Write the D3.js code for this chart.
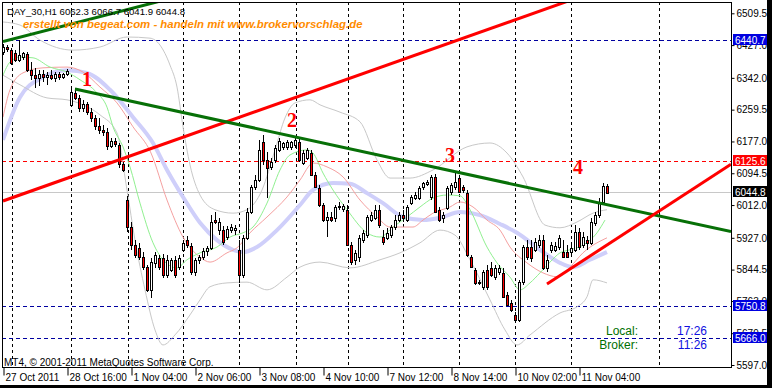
<!DOCTYPE html>
<html>
<head>
<meta charset="utf-8">
<script src="https://cdn.jsdelivr.net/npm/d3@7"></script>
<style>
body { margin: 0; background: #000; }
svg text { font-family: "Liberation Sans", Arial, sans-serif; }
</style>
</head>
<body>
<div id="chart"></div>
<script>
// Hourly DAX candles
var open_prices = [6409,6422,6414,6407,6388,6396,6404,6362,6350,6342,
  6352,6344,6350,6342,6352,6344,6352,6272,6303,6290,
  6264,6274,6254,6238,6217,6207,6202,6165,6178,6168,
  6119,6025,5955,5909,5901,5877,5851,5792,5862,5875,
  5875,5831,5844,5870,5851,5896,5921,5906,5838,5870,
  5877,5893,5901,5973,5947,5947,5929,5947,5947,5896,
  5831,5927,5994,6059,6077,6176,6129,6111,6129,6155,
  6163,6163,6163,6168,6176,6121,6134,6147,6090,6056,
  6012,5973,5981,5979,6007,6002,5999,5909,5870,5877,
  5921,5934,5973,5979,5999,5929,5927,5934,5955,5973,
  5986,5973,6017,6030,6030,6059,6067,6033,6085,5999,
  5979,6004,6046,6059,6082,6059,6043,5877,5844,5810,
  5800,5844,5849,5826,5838,5836,5779,5758,5727,5714,
  5813,5903,5903,5896,5909,5921,5849,5896,5896,5903,
  5890,5890,5890,5896,5942,5909,5921,5914,5966,5986,
  6020,6062.3];
var high_prices = [6430,6427,6420,6414,6440,6409,6409,6383,6368,6362,
  6362,6357,6362,6357,6357,6355,6365,6316,6316,6298,
  6285,6279,6264,6246,6238,6220,6212,6186,6186,6173,
  6124,6036,5968,5921,5914,5890,5857,5875,5890,5883,
  5885,5883,5875,5880,5883,5921,5932,5914,5875,5883,
  5901,5906,5986,5994,5979,5958,5958,5963,5960,5921,
  5934,6004,6064,6090,6181,6194,6150,6134,6168,6186,
  6176,6181,6178,6189,6186,6155,6160,6155,6098,6064,
  6017,5994,5994,6012,6020,6015,6012,5916,5896,5934,
  5947,5986,5994,6012,6012,5947,5953,5960,5986,5994,
  5999,6012,6038,6046,6062,6072,6077,6090,6093,6007,
  5994,6062,6069,6098,6090,6064,6051,5883,5849,5818,
  5844,5857,5864,5857,5857,5849,5787,5766,5735,5818,
  5909,5921,5921,5927,5934,5934,5883,5916,5916,5934,
  5921,5909,5914,5960,5953,5942,5932,5979,5994,6030,
  6069,6066.7];
var low_prices = [6401,6409,6375,6383,6383,6388,6357,6337,6316,6321,
  6331,6324,6337,6331,6337,6339,6347,6269,6285,6254,
  6254,6246,6228,6207,6196,6191,6155,6160,6163,6108,
  6098,5942,5896,5875,5870,5844,5787,5771,5849,5844,
  5823,5823,5838,5823,5844,5890,5901,5831,5828,5859,
  5870,5880,5896,5963,5934,5909,5921,5940,5934,5810,
  5823,5921,5989,6051,6072,6116,6030,6103,6121,6150,
  6155,6155,6155,6160,6124,6116,6129,6087,6056,6007,
  5968,5929,5968,5968,5999,5994,5906,5857,5857,5864,
  5914,5927,5968,5973,5953,5909,5921,5927,5947,5968,
  5968,5968,6012,6025,6025,6051,6062,6025,5991,5968,
  5966,5999,6038,6051,6043,6043,5877,5849,5805,5805,
  5792,5792,5826,5818,5831,5771,5750,5735,5709,5709,
  5805,5870,5864,5890,5901,5844,5838,5888,5890,5896,
  5875,5875,5883,5890,5896,5901,5896,5909,5958,5979,
  6012,6041.9];
var close_prices = [6422,6417,6381,6388,6401,6407,6362,6350,6342,6352,
  6344,6350,6342,6352,6344,6352,6360,6305,6290,6264,
  6274,6254,6238,6217,6207,6202,6165,6178,6171,6119,
  6103,5955,5909,5883,5877,5851,5792,5864,5883,5851,
  5831,5870,5870,5831,5875,5914,5909,5838,5870,5877,
  5893,5901,5968,5968,5968,5916,5950,5955,5953,5831,
  5927,5994,6059,6077,6155,6129,6108,6124,6160,6178,
  6173,6176,6176,6181,6129,6147,6155,6090,6059,6012,
  5973,5981,5973,6007,6010,6010,5909,5864,5888,5927,
  5940,5981,5986,5999,5960,5916,5940,5955,5973,5986,
  5979,6007,6033,6038,6056,6069,6072,6085,5994,5973,
  5986,6056,6064,6072,6046,6051,5883,5851,5810,5813,
  5838,5800,5831,5849,5849,5774,5753,5740,5714,5813,
  5903,5877,5875,5916,5921,5849,5870,5909,5906,5927,
  5877,5877,5901,5942,5903,5929,5914,5968,5986,6020,
  6062,6044.8];

// Indicator lines [bar, price]
var ma_fast = [[0,6349],[1.75,6383],[4.25,6396],[7.5,6394],[11.75,6370],[16,6357],[19.25,6337],[23.5,6303],
  [26,6266],[27.5,6215],[30,6163],[31.75,6111],[34.25,6017],[37.5,5914],[40,5870],[43.5,5849],[46,5870],
  [49.25,5888],[53.5,5903],[56.75,5929],[60,5940],[62.5,5955],[66,6017],[69.25,6103],[71.75,6142],[76,6155],
  [77.5,6147],[80,6095],[82.5,6051],[86,6000],[91,5940],[94.25,5929],[97.5,5955],[101,5981],[104.25,6007],
  [107.5,6030],[111,6038],[114.25,6036],[116.75,6000],[121,5903],[123.5,5862],[126.75,5825],[129.25,5792],
  [131.75,5810],[134.25,5836],[136.75,5864],[139.25,5888],[141.75,5896],[145,5908],[148.5,5940],[150.5,5973]];
var ma_mid = [[0,6240],[1.75,6311],[5,6355],[10,6368],[16,6370],[20,6357],[24.25,6318],[28.5,6277],[32.5,6215],
  [37,6147],[41,6025],[45,5929],[49.25,5877],[51.75,5864],[56,5888],[58.5,5901],[61.75,5940],[66,5981],
  [71,6033],[74.25,6077],[77.5,6121],[81,6111],[85,6085],[89.25,6025],[93.5,5981],[96.75,5955],[102.5,5955],
  [105,5973],[107.5,5991],[111.75,6007],[114.25,6020],[117.5,6007],[121,5973],[124.25,5947],[126.75,5903],
  [131,5862],[135,5836],[138.5,5826],[141.75,5851],[145,5888],[151,5927]];
var ma_slow = [[0,6181],[4.25,6292],[10,6344],[16,6362],[21,6355],[26.75,6311],[32.5,6240],[37.5,6173],[41,6103],
  [45,6033],[49.25,5966],[53.5,5921],[57.5,5896],[60,5890],[63.5,5903],[68.5,5947],[74.25,6012],[77.5,6051],
  [82.5,6069],[86.75,6067],[91,6043],[95,6017],[100,5981],[105,5973],[109.25,5979],[114.25,5994],[119.25,5986],
  [124.25,5963],[128.5,5940],[134.25,5896],[139.25,5862],[142.5,5851],[146.75,5870],[151,5890]];
var band_upper = [[0,6487],[4.25,6479],[9.25,6440],[17.5,6414],[24.25,6422],[31,6448],[36.75,6445],[39.25,6427],
  [41.75,6375],[43.5,6318],[45,6215],[46.75,6116],[49.25,6038],[53,6000],[57.5,5991],[61,6000],[64.75,6051],
  [68,6155],[70.5,6238],[73,6277],[76.75,6285],[79.25,6272],[84.25,6253],[89.25,6228],[93.5,6129],[96.75,6082],
  [101.75,6082],[107.5,6103],[116,6163],[121.75,6173],[126,6147],[130,6085],[135.5,5960],[139.25,5953],
  [143.5,5968],[147.5,5991],[151,6000]];
var band_lower = [[0,6349],[4.25,6324],[11,6290],[16,6285],[20,6272],[24.25,6246],[28.5,6199],[31,6051],[33,5921],
  [35.5,5792],[38,5688],[40,5649],[43,5675],[46.75,5727],[49.25,5766],[51.75,5800],[56,5810],[61,5812],
  [66,5792],[71,5825],[74.25,5851],[79.25,5864],[86.75,5849],[94.25,5870],[99.25,5888],[104.25,5914],
  [109.25,5947],[113,5934],[116.75,5870],[121.75,5766],[125.5,5688],[128.5,5649],[131.75,5675],[139.25,5732],
  [143.5,5748],[146,5774],[147.5,5818],[151,5810]];

// Trend lines [bar, price]
var trend_green_top = [[0,6436],[40,6543]];
var trend_red_top = [[0,6022.6],[145,6555]];
var trend_green_main = [[18,6313],[182,5943]];
var trend_red_low = [[136,5807],[182,6118]];

// Horizontal levels
var blue_levels = [6440.7, 5750.8, 5666.0];
var red_level = 6125.6;
var bid_level = 6044.8;

// Wave labels
var wave_labels = ['1', '2', '3', '4'];
var wave_bars = [21, 72.25, 111.75, 143.75];
var wave_prices = [6321, 6215, 6124, 6093];

// Axis ticks
var price_ticks = [6509.5, 6427.0, 6342.0, 6259.5, 6177.0, 6094.5, 6012.0, 5927.0, 5844.5, 5763.0, 5679.5, 5597.0];
var time_bars = [0, 16, 32, 48, 64, 80, 96, 112, 128, 144];
var time_labels = ['27 Oct 2011', '28 Oct 16:00', '1 Nov 04:00', '2 Nov 06:00', '3 Nov 08:00',
  '4 Nov 10:00', '7 Nov 12:00', '8 Nov 14:00', '10 Nov 02:00', '11 Nov 04:00'];
var grid_bars = [2.25, 17, 31.25, 45, 59, 73.25, 86.25, 100, 114, 128, 142, 164];

var svg_width = 772;
var svg_height = 388;
var plot = {left: 2, top: 2, right: 731, bottom: 367};

var svg = d3.select('#chart')
  .append('svg')
  .attr('width', svg_width)
  .attr('height', svg_height);

// Window background with black frame
svg.append('rect').attr('width', svg_width).attr('height', svg_height).attr('fill', '#000');
svg.append('rect').attr('width', 767).attr('height', 385).attr('fill', '#fff');

// Scales
var x_scale = d3.scaleLinear().domain([0, 182]).range([3, 731]);
var y_scale = d3.scaleLinear().domain([5597.0, 6509.5]).range([365, 13.3]);
var px = v => Math.round(x_scale(v)) + 0.5;

svg.append('clipPath').attr('id', 'plot_clip')
  .append('rect')
  .attr('x', plot.left + 1).attr('y', plot.top + 1)
  .attr('width', plot.right - plot.left - 1).attr('height', plot.bottom - plot.top - 1);

var chart_group = svg.append('g').attr('clip-path', 'url(#plot_clip)');

// Vertical grid
chart_group.selectAll('.grid')
  .data(grid_bars)
  .enter()
  .append('line')
  .attr('x1', d => px(d)).attr('x2', d => px(d))
  .attr('y1', plot.top).attr('y2', plot.bottom)
  .attr('stroke', '#000')
  .attr('stroke-dasharray', '3,3');

// Horizontal levels
chart_group.selectAll('.blue_level')
  .data(blue_levels)
  .enter()
  .append('line')
  .attr('x1', plot.left).attr('x2', plot.right)
  .attr('y1', d => Math.round(y_scale(d)) + 0.5).attr('y2', d => Math.round(y_scale(d)) + 0.5)
  .attr('stroke', '#0000a0')
  .attr('stroke-dasharray', '4,3');

chart_group.append('line')
  .attr('x1', plot.left).attr('x2', plot.right)
  .attr('y1', Math.round(y_scale(red_level)) + 0.5).attr('y2', Math.round(y_scale(red_level)) + 0.5)
  .attr('stroke', '#ff0000')
  .attr('stroke-dasharray', '4,3');

chart_group.append('line')
  .attr('x1', plot.left).attr('x2', plot.right)
  .attr('y1', Math.round(y_scale(bid_level)) + 0.5).attr('y2', Math.round(y_scale(bid_level)) + 0.5)
  .attr('stroke', '#c8c8c8');

// Indicator lines
var indicator_line = d3.line()
  .x(d => x_scale(d[0]))
  .y(d => y_scale(d[1]))
  .curve(d3.curveMonotoneX);

function drawIndicator(points, color, width) {
  chart_group.append('path')
    .datum(points)
    .attr('d', indicator_line)
    .attr('fill', 'none')
    .attr('stroke', color)
    .attr('stroke-width', width);
}

drawIndicator(ma_slow, '#cfcffa', 4);
drawIndicator(band_upper, '#c8c8c8', 1);
drawIndicator(band_lower, '#c8c8c8', 1);
drawIndicator(ma_mid, '#f5a0a0', 1);
drawIndicator(ma_fast, '#90f090', 1);

// Candles
var bars = open_prices.map((o, i) => ({i: i, o: o, h: high_prices[i], l: low_prices[i], c: close_prices[i]}));

var group_candles = chart_group.selectAll('.candle')
  .data(bars)
  .enter()
  .append('g');

group_candles.append('line')
  .attr('x1', d => px(d.i)).attr('x2', d => px(d.i))
  .attr('y1', d => Math.round(y_scale(d.h))).attr('y2', d => Math.round(y_scale(d.l)))
  .attr('stroke', '#000');

group_candles.append('rect')
  .attr('x', d => px(d.i) - 1)
  .attr('width', 2)
  .attr('y', d => Math.round(y_scale(Math.max(d.o, d.c))) + 0.5)
  .attr('height', d => Math.max(1, Math.round(Math.abs(y_scale(d.o) - y_scale(d.c)))))
  .attr('fill', d => d.c >= d.o ? '#fff' : '#ff0000')
  .attr('stroke', '#000');

// Trend lines
var trend_line = d3.line()
  .x(d => x_scale(d[0]))
  .y(d => y_scale(d[1]));

function drawTrend(points, color) {
  chart_group.append('path')
    .datum(points)
    .attr('d', trend_line)
    .attr('fill', 'none')
    .attr('stroke', color)
    .attr('stroke-width', 3);
}

drawTrend(trend_green_top, '#077007');
drawTrend(trend_red_top, '#ff0000');
drawTrend(trend_green_main, '#077007');
drawTrend(trend_red_low, '#ff0000');

// Wave numbers
chart_group.selectAll('.wave')
  .data(wave_labels)
  .enter()
  .append('text')
  .attr('x', (d, i) => x_scale(wave_bars[i]))
  .attr('y', (d, i) => y_scale(wave_prices[i]))
  .attr('text-anchor', 'middle')
  .style('font-family', '"Liberation Serif", "Times New Roman", serif')
  .style('font-weight', 'bold')
  .style('font-size', '20px')
  .attr('fill', '#ff0000')
  .text(d => d);

// Header texts
svg.append('text')
  .attr('x', 7).attr('y', 15)
  .style('font-size', '9.6px')
  .attr('fill', '#000')
  .text('DAY_30,H1  6062.3 6066.7 6041.9 6044.8');

svg.append('text')
  .attr('x', 23).attr('y', 28)
  .style('font-size', '11.4px')
  .style('font-weight', 'bold')
  .style('font-style', 'italic')
  .attr('fill', '#ff8c00')
  .text('erstellt von begeat.com - handeln mit www.brokervorschlag.de');

svg.append('text')
  .attr('x', 4).attr('y', 366)
  .style('font-size', '10px')
  .attr('fill', '#000')
  .text('MT4, \u00a9 2001-2011 MetaQuotes Software Corp.');

// Clock panel
var clock_names = ['Local:', 'Broker:'];
var clock_times = ['17:26', '11:26'];
svg.selectAll('.clock_name')
  .data(clock_names)
  .enter()
  .append('text')
  .attr('x', 638).attr('y', (d, i) => 335 + i * 14)
  .attr('text-anchor', 'end')
  .style('font-size', '12px')
  .attr('fill', '#007000')
  .text(d => d);
svg.selectAll('.clock_time')
  .data(clock_times)
  .enter()
  .append('text')
  .attr('x', 707).attr('y', (d, i) => 335 + i * 14)
  .attr('text-anchor', 'end')
  .style('font-size', '12px')
  .attr('fill', '#1010e0')
  .text(d => d);

// Plot frame
svg.append('rect')
  .attr('x', plot.left + 0.5).attr('y', plot.top + 0.5)
  .attr('width', plot.right - plot.left).attr('height', plot.bottom - plot.top)
  .attr('fill', 'none')
  .attr('stroke', '#000');

// Price axis
var y_axis = svg.append('g')
  .attr('transform', `translate(${plot.right + 0.5}, 0)`)
  .call(d3.axisRight(y_scale).tickValues(price_ticks).tickSize(3).tickFormat(d3.format('.1f')));
y_axis.select('.domain').remove();
y_axis.selectAll('text').style('font-size', '10px').style('font-family', '"Liberation Sans", Arial, sans-serif').attr('x', 5);

// Time axis
var x_axis = svg.append('g')
  .attr('transform', `translate(0, ${plot.bottom + 0.5})`)
  .call(d3.axisBottom(x_scale).tickValues(time_bars).tickSize(8).tickFormat((d, i) => time_labels[i]));
x_axis.select('.domain').remove();
x_axis.selectAll('line').attr('transform', 'translate(0.5,0)');
x_axis.selectAll('text')
  .attr('text-anchor', 'start')
  .attr('x', 2).attr('y', 6)
  .style('font-size', '10px')
  .style('font-family', '"Liberation Sans", Arial, sans-serif');

// Price level tags
function drawTag(price, bg) {
  var yy = Math.round(y_scale(price));
  svg.append('rect')
    .attr('x', 733).attr('y', yy - 6)
    .attr('width', 34).attr('height', 11)
    .attr('fill', bg);
  svg.append('text')
    .attr('x', 735).attr('y', yy + 4)
    .style('font-size', '10px')
    .attr('fill', '#fff')
    .text(d3.format('.1f')(price));
}
blue_levels.forEach(p => drawTag(p, '#0000e0'));
drawTag(red_level, '#ff0000');
drawTag(bid_level, '#000');
</script>
</body>
</html>
